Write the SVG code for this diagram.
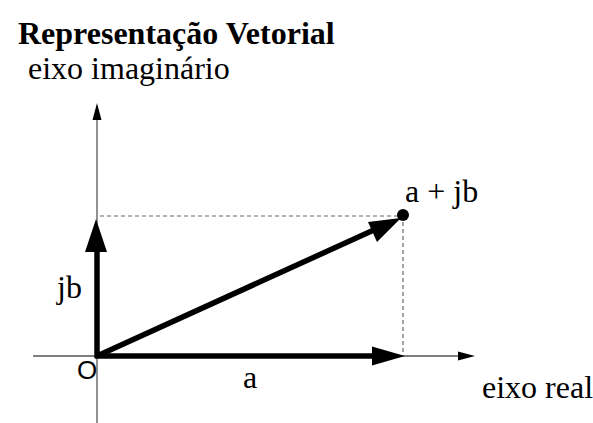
<svg xmlns="http://www.w3.org/2000/svg" width="593" height="423" viewBox="0 0 593 423">
<style>
.t{font-family:"Liberation Serif","Times New Roman",serif;fill:#000;font-size:32px}
.axis{stroke:#555;stroke-width:1.3;fill:none}
.dash{stroke:#666;stroke-width:1.2;stroke-dasharray:4 3;fill:none}
.vec{stroke:#000;stroke-width:5.5;fill:none}
</style>
<rect width="593" height="423" fill="#fff"/>
<text class="t" x="18" y="44" font-weight="bold">Representação Vetorial</text>
<text class="t" x="28" y="79">eixo imaginário</text>
<g id="connectors">
<line class="axis" x1="97" y1="112" x2="97" y2="423"/>
<polygon points="97,103 92.5,120 101.5,120" fill="#000"/>
<line class="axis" x1="33" y1="356" x2="462" y2="356"/>
<polygon points="475,356 458,351.5 458,360.5" fill="#000"/>
<line class="dash" x1="100" y1="216" x2="400" y2="216"/>
<line class="dash" x1="403" y1="222" x2="403" y2="354"/>
<line class="vec" x1="97" y1="358" x2="97" y2="248"/>
<polygon points="96,219 85,252 107,252" fill="#000"/>
<line class="vec" x1="95" y1="356" x2="376" y2="356"/>
<polygon points="405,356 372,346.5 372,365.5" fill="#000"/>
<line class="vec" x1="97" y1="356" x2="376" y2="229"/>
<polygon points="401,218 368,222 377,242" fill="#000"/>
</g>
<g id="point">
<circle cx="403" cy="215" r="6" fill="#000"/>
<text class="t" x="405" y="202">a + jb</text>
</g>
<text class="t" x="57" y="298">jb</text>
<text x="77" y="379" font-size="26" font-family="Liberation Sans,Arial,sans-serif">O</text>
<text class="t" x="243" y="388">a</text>
<text class="t" x="482" y="398">eixo real</text>
</svg>
